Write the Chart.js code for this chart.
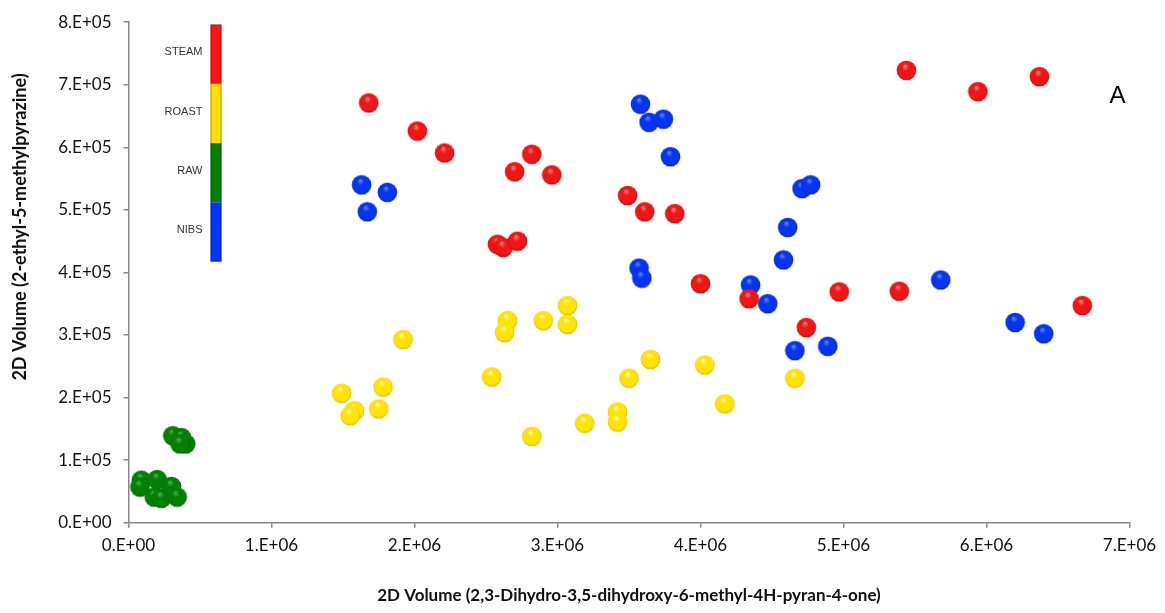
<!DOCTYPE html>
<html>
<head>
<meta charset="utf-8">
<script src="https://cdn.jsdelivr.net/npm/chart.js@4"></script>
<style>
  body { margin: 0; background: #fff; }
  #wrap { width: 1165px; height: 613px; position: relative; }
</style>
</head>
<body>
<div id="wrap"><canvas id="myChart"></canvas></div>
<script>
// group names, top to bottom as in the colour bar
let groupNames = ["STEAM", "ROAST", "RAW", "NIBS"];

// x = 2D volume of 2,3-dihydro-3,5-dihydroxy-6-methyl-4H-pyran-4-one
// y = 2D volume of 2-ethyl-5-methylpyrazine
let steamX = [1.68e6, 2.02e6, 2.21e6, 2.82e6, 2.70e6, 2.96e6, 2.58e6, 2.62e6, 2.72e6, 3.49e6, 3.61e6,
              3.82e6, 5.44e6, 5.94e6, 6.37e6, 5.39e6, 6.67e6, 4.00e6, 4.34e6, 4.97e6, 4.74e6];
let steamY = [6.71e5, 6.26e5, 5.91e5, 5.89e5, 5.61e5, 5.56e5, 4.45e5, 4.40e5, 4.50e5, 5.23e5, 4.97e5,
              4.94e5, 7.23e5, 6.89e5, 7.13e5, 3.70e5, 3.47e5, 3.82e5, 3.58e5, 3.69e5, 3.12e5];

let roastX = [1.92e6, 1.49e6, 1.78e6, 1.75e6, 1.58e6, 1.55e6, 2.54e6, 2.65e6, 2.63e6, 2.90e6, 3.07e6,
              3.07e6, 2.82e6, 3.19e6, 3.65e6, 3.50e6, 4.03e6, 4.66e6, 4.17e6, 3.42e6, 3.42e6];
let roastY = [2.93e5, 2.07e5, 2.17e5, 1.82e5, 1.79e5, 1.71e5, 2.33e5, 3.23e5, 3.04e5, 3.23e5, 3.47e5,
              3.17e5, 1.38e5, 1.59e5, 2.61e5, 2.31e5, 2.52e5, 2.31e5, 1.90e5, 1.77e5, 1.61e5];

let rawX = [0.09e6, 0.08e6, 0.20e6, 0.18e6, 0.23e6, 0.30e6, 0.34e6, 0.31e6, 0.37e6, 0.40e6, 0.36e6];
let rawY = [0.68e5, 0.57e5, 0.69e5, 0.41e5, 0.39e5, 0.58e5, 0.41e5, 1.39e5, 1.36e5, 1.26e5, 1.26e5];

let nibsX = [1.63e6, 1.81e6, 1.67e6, 3.58e6, 3.64e6, 3.74e6, 3.79e6, 4.71e6, 4.77e6, 4.61e6,
             4.58e6, 3.57e6, 3.59e6, 4.35e6, 4.47e6, 5.68e6, 4.66e6, 4.89e6, 6.20e6, 6.40e6];
let nibsY = [5.40e5, 5.28e5, 4.97e5, 6.69e5, 6.40e5, 6.45e5, 5.85e5, 5.34e5, 5.40e5, 4.72e5,
             4.20e5, 4.07e5, 3.91e5, 3.80e5, 3.50e5, 3.88e5, 2.75e5, 2.82e5, 3.20e5, 3.02e5];

let xTicks = [0, 1e6, 2e6, 3e6, 4e6, 5e6, 6e6, 7e6];
let yTicks = [0, 1e5, 2e5, 3e5, 4e5, 5e5, 6e5, 7e5, 8e5];

let panelLabel = "A";
let yTitle = "2D Volume (2-ethyl-5-methylpyrazine)";
let xTitle = "2D Volume (2,3-Dihydro-3,5-dihydroxy-6-methyl-4H-pyran-4-one)";

// base, highlight, edge colours per group
let groupColors = {
    STEAM: ["#f01616", "#ff8080", "#b00000"],
    ROAST: ["#ffe400", "#fffbb0", "#c8a800"],
    RAW:   ["#038003", "#44b044", "#005800"],
    NIBS:  ["#0535f0", "#5a85ff", "#0020a8"]
};
let barColors = ["#ff1414", "#ffdf00", "#058005", "#0335fb"];

function toPoints(xs, ys) {
    return xs.map(function(x, i) { return { x: x, y: ys[i] }; });
}

function sphere(cols) {
    let c = document.createElement('canvas');
    c.width = 21;
    c.height = 21;
    let g = c.getContext('2d');
    let grad = g.createRadialGradient(9, 6, 0.5, 10.5, 10.5, 10.5);
    grad.addColorStop(0, cols[1]);
    grad.addColorStop(0.3, cols[0]);
    grad.addColorStop(0.8, cols[0]);
    grad.addColorStop(1, cols[2]);
    g.fillStyle = grad;
    g.beginPath();
    g.arc(10.5, 10.5, 9.8, 0, Math.PI * 2);
    g.fill();
    return c;
}

function sciLabel(v) {
    if (v === 0) return "0.E+00";
    let e = Math.floor(Math.log10(v) + 1e-9);
    let m = Math.round(v / Math.pow(10, e));
    return m + ".E+" + (e < 10 ? "0" + e : e);
}

let series = [
    { name: "STEAM", pts: toPoints(steamX, steamY) },
    { name: "ROAST", pts: toPoints(roastX, roastY) },
    { name: "RAW", pts: toPoints(rawX, rawY) },
    { name: "NIBS", pts: toPoints(nibsX, nibsY) }
];

let datasets = series.map(function(s) {
    let col = groupColors[s.name];
    return {
        label: s.name,
        data: s.pts,
        pointStyle: sphere(col),
        pointRadius: 10,
        backgroundColor: col[0],
        borderColor: col[0],
        showLine: false
    };
});

let fontFamily = "Lato, 'Open Sans', sans-serif";

// colour bar with group names, panel letter, and the y title (placed a bit above centre as in the original)
let decorations = {
    id: 'decorations',
    afterDraw: function(chart) {
        let ctx = chart.ctx;
        let a = chart.chartArea;
        let left = a.left + 82, top = a.top + 2.5, w = 11, segH = 59.2;
        ctx.save();
        groupNames.forEach(function(name, i) {
            ctx.fillStyle = barColors[i];
            ctx.fillRect(left, top + i * segH, w, segH);
            ctx.fillStyle = "#333";
            ctx.font = "11px 'Liberation Sans', Arial, sans-serif";
            ctx.textAlign = "right";
            ctx.textBaseline = "middle";
            ctx.fillText(name, left - 8, top + i * segH + segH / 2 - 2);
        });
        ctx.strokeStyle = "rgba(0,0,0,0.35)";
        ctx.lineWidth = 1;
        ctx.strokeRect(left + 0.5, top, w - 1, segH * groupNames.length);

        ctx.fillStyle = "#000";
        ctx.font = "24px 'Liberation Sans', Arial, sans-serif";
        ctx.textAlign = "center";
        ctx.textBaseline = "middle";
        ctx.fillText(panelLabel, a.right - 12, a.top + 74);

        ctx.translate(20, 227);
        ctx.rotate(-Math.PI / 2);
        ctx.fillStyle = "#111";
        ctx.font = "bold 18px " + fontFamily;
        ctx.fillText(yTitle, 0, 0);
        ctx.restore();
    }
};

let tickFont = { family: fontFamily, size: 17 };
let titleFont = { family: fontFamily, size: 17, weight: "bold" };

let myChart = new Chart(document.getElementById('myChart'), {
    type: 'scatter',
    data: { datasets: datasets },
    options: {
        responsive: true,
        maintainAspectRatio: false,
        animation: false,
        layout: { padding: { top: 18.3, right: 35.5, left: 0, bottom: 0 } },
        plugins: {
            legend: { display: false },
            tooltip: { enabled: false }
        },
        scales: {
            x: {
                type: 'linear',
                min: 0,
                max: 7e6,
                afterBuildTicks: function(scale) {
                    scale.ticks = xTicks.map(function(v) { return { value: v }; });
                },
                afterFit: function(scale) { scale.height = 90.3; },
                ticks: {
                    callback: sciLabel,
                    color: "#111",
                    font: tickFont,
                    padding: 8,
                    maxRotation: 0,
                    autoSkip: false
                },
                grid: { drawOnChartArea: false, drawTicks: true, tickLength: 5, color: "#888", lineWidth: 1.5 },
                border: { color: "#888", width: 1.5 },
                title: {
                    display: true,
                    text: xTitle,
                    color: "#111",
                    font: titleFont,
                    padding: { top: 0, bottom: 7 }
                }
            },
            y: {
                type: 'linear',
                min: 0,
                max: 8e5,
                afterBuildTicks: function(scale) {
                    scale.ticks = yTicks.map(function(v) { return { value: v }; });
                },
                afterFit: function(scale) { scale.width = 128.5; },
                ticks: {
                    callback: sciLabel,
                    color: "#111",
                    font: tickFont,
                    padding: 12,
                    autoSkip: false
                },
                grid: { drawOnChartArea: false, drawTicks: true, tickLength: 5, color: "#888", lineWidth: 1.5 },
                border: { color: "#888", width: 1.5 },
                title: { display: false }
            }
        }
    },
    plugins: [decorations]
});
</script>
</body>
</html>
